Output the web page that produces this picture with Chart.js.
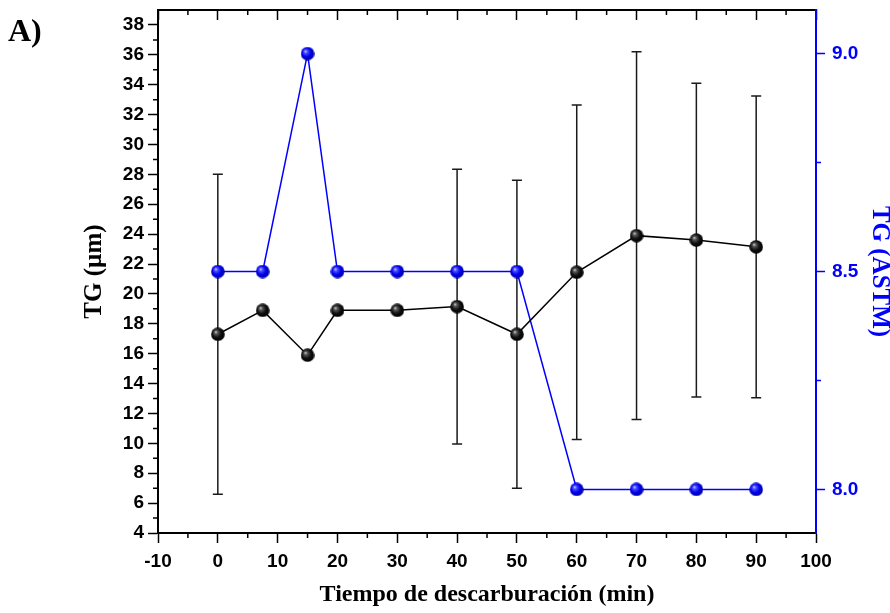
<!DOCTYPE html>
<html>
<head>
<meta charset="utf-8">
<script src="https://cdn.jsdelivr.net/npm/chart.js@4/dist/chart.umd.min.js"></script>
<style>
  html, body { margin: 0; padding: 0; background: #fff; }
  #wrap { width: 890px; height: 613px; }
</style>
</head>
<body>
<div id="wrap"><canvas id="grainChart" width="890" height="613"></canvas></div>
<script>
// ---- data ----
const timeMin   = [0, 7.5, 15, 20, 30, 40, 50, 60, 70, 80, 90];
const tgMicron  = [17.3, 18.9, 15.9, 18.9, 18.9, 19.15, 17.3, 21.45, 23.9, 23.6, 23.15];
const tgErr     = [10.7, 0, 0, 0, 0, 9.2, 10.3, 11.2, 12.3, 10.5, 10.1];
const tgAstm    = [8.5, 8.5, 9.0, 8.5, 8.5, 8.5, 8.5, 8.0, 8.0, 8.0, 8.0];

// tick labels
const xTicks     = [-10, 0, 10, 20, 30, 40, 50, 60, 70, 80, 90, 100];
const xMinor     = [-5, 5, 15, 25, 35, 45, 55, 65, 75, 85, 95];
const leftTicks  = [4, 6, 8, 10, 12, 14, 16, 18, 20, 22, 24, 26, 28, 30, 32, 34, 36, 38];
const leftMinor  = [5, 7, 9, 11, 13, 15, 17, 19, 21, 23, 25, 27, 29, 31, 33, 35, 37];
const rightTicks = [8.0, 8.5, 9.0];
const rightMinor = [8.25, 8.75];

const BLUE = '#0000ff';
const SANS = "'Liberation Sans', Arial, sans-serif";
const SERIF = "'Liberation Serif', 'Times New Roman', serif";

// shaded ball markers
function makeBall(base, mid, hi, edge) {
    const c = document.createElement('canvas');
    c.width = 14; c.height = 14;
    const g = c.getContext('2d');
    const grad = g.createRadialGradient(4.8, 4.6, 0, 6.5, 6.5, 7.5);
    grad.addColorStop(0, hi);
    grad.addColorStop(0.22, mid);
    grad.addColorStop(0.6, base);
    grad.addColorStop(1, edge);
    g.fillStyle = grad;
    g.beginPath();
    g.arc(7, 7, 6.8, 0, Math.PI * 2);
    g.fill();
    return c;
}
const blackBall = makeBall('#101010', '#5a5a5a', '#e8e8e8', '#000000');
const blueBall  = makeBall('#0000ee', '#5050ff', '#e6ecff', '#0000a0');

function toPoints(xs, ys) {
    return xs.map((x, i) => ({ x: x, y: ys[i] }));
}

function fixTicks(list) {
    return function (scale) { scale.ticks = list.map(v => ({ value: v })); };
}

// pin a scale's thickness and drop the label overhang padding
function pinSize(w, h) {
    return function (s) {
        if (w !== null) s.width = w;
        if (h !== null) s.height = h;
        s.paddingTop = 0; s.paddingBottom = 0;
        s.paddingLeft = 0; s.paddingRight = 0;
    };
}

// error bars for the µm series, drawn under the markers
const errorBarPlugin = {
    id: 'errorBars',
    beforeDatasetsDraw(chart) {
        const ctx = chart.ctx;
        const xs = chart.scales.x, ys = chart.scales.y;
        ctx.save();
        ctx.strokeStyle = '#1a1a1a';
        ctx.lineWidth = 1.5;
        timeMin.forEach((t, i) => {
            const e = tgErr[i];
            if (!e) return;
            const px = xs.getPixelForValue(t);
            const top = ys.getPixelForValue(tgMicron[i] + e);
            const bot = ys.getPixelForValue(tgMicron[i] - e);
            ctx.beginPath();
            ctx.moveTo(px, top); ctx.lineTo(px, bot);
            ctx.moveTo(px - 5, top); ctx.lineTo(px + 5, top);
            ctx.moveTo(px - 5, bot); ctx.lineTo(px + 5, bot);
            ctx.stroke();
        });
        ctx.restore();
    }
};

// minor ticks (Chart.js has no minor ticks of its own) and the panel letter
const minorTickPlugin = {
    id: 'minorTicks',
    afterDraw(chart) {
        const ctx = chart.ctx;
        const a = chart.chartArea;
        const { x, y, y2 } = chart.scales;
        ctx.save();
        ctx.lineWidth = 1.5;
        ctx.strokeStyle = '#000';
        ctx.beginPath();
        xMinor.forEach(v => {
            const px = x.getPixelForValue(v);
            ctx.moveTo(px, a.bottom); ctx.lineTo(px, a.bottom + 5);
            ctx.moveTo(px, a.top); ctx.lineTo(px, a.top + 5);
        });
        leftMinor.forEach(v => {
            const py = y.getPixelForValue(v);
            ctx.moveTo(a.left, py); ctx.lineTo(a.left - 5, py);
        });
        ctx.stroke();
        ctx.strokeStyle = BLUE;
        ctx.beginPath();
        rightMinor.forEach(v => {
            const py = y2.getPixelForValue(v);
            ctx.moveTo(a.right, py); ctx.lineTo(a.right + 5, py);
        });
        ctx.stroke();

        ctx.fillStyle = '#000';
        ctx.font = 'bold 32px ' + SERIF;
        ctx.textBaseline = 'alphabetic';
        ctx.fillText('A)', 8, 41);
        ctx.restore();
    }
};

const tickFont = { family: SANS, size: 19, weight: 'bold' };

const ctx = document.getElementById('grainChart').getContext('2d');
new Chart(ctx, {
    type: 'line',
    data: {
        datasets: [
            {
                label: 'TG (µm)',
                data: toPoints(timeMin, tgMicron),
                xAxisID: 'x', yAxisID: 'y',
                borderColor: '#000', borderWidth: 1.5,
                pointStyle: blackBall, tension: 0
            },
            {
                label: 'TG (ASTM)',
                data: toPoints(timeMin, tgAstm),
                xAxisID: 'x', yAxisID: 'y2',
                borderColor: BLUE, borderWidth: 1.5,
                pointStyle: blueBall, tension: 0
            }
        ]
    },
    options: {
        responsive: false,
        animation: false,
        events: [],
        layout: { padding: 0 },
        plugins: { legend: { display: false }, tooltip: { enabled: false } },
        scales: {
            x: {
                type: 'linear', position: 'bottom', min: -10, max: 100,
                afterBuildTicks: fixTicks(xTicks),
                afterFit: pinSize(null, 80),
                border: { color: '#000', width: 2 },
                grid: { drawOnChartArea: false, tickLength: 10, tickWidth: 1.5, tickColor: '#000' },
                ticks: { color: '#000', padding: 7, maxRotation: 0, font: tickFont },
                title: {
                    display: true, text: 'Tiempo de descarburación (min)', color: '#000',
                    font: { family: SERIF, size: 24, weight: 'bold' }, padding: { bottom: 4 }
                }
            },
            xTop: {
                type: 'linear', position: 'top', min: -10, max: 100,
                afterBuildTicks: fixTicks(xTicks),
                afterFit: pinSize(null, 10),
                border: { color: '#000', width: 2 },
                grid: { drawOnChartArea: false, tickLength: -10, tickWidth: 1.5, tickColor: '#000' },
                ticks: { display: false }
            },
            y: {
                type: 'linear', position: 'left', min: 4, max: 39,
                afterBuildTicks: fixTicks(leftTicks),
                afterFit: pinSize(158, null),
                border: { color: '#000', width: 2 },
                grid: { drawOnChartArea: false, tickLength: 10, tickWidth: 1.5, tickColor: '#000' },
                ticks: { color: '#000', padding: 4, font: tickFont },
                title: {
                    display: true, text: 'TG (µm)', color: '#000',
                    font: { family: SERIF, size: 25, weight: 'bold', lineHeight: 1 }, padding: { top: 82 }
                }
            },
            y2: {
                type: 'linear', position: 'right', min: 7.9, max: 9.1,
                afterBuildTicks: fixTicks(rightTicks),
                afterFit: pinSize(74, null),
                border: { color: BLUE, width: 2 },
                grid: { drawOnChartArea: false, tickLength: 9, tickWidth: 1.5, tickColor: BLUE },
                ticks: {
                    color: BLUE, padding: 7, font: tickFont,
                    callback: v => Number(v).toFixed(1)
                },
                title: {
                    display: true, text: 'TG (ASTM)', color: BLUE,
                    font: { family: SERIF, size: 25, weight: 'bold', lineHeight: 1 }, padding: { top: -2 }
                }
            }
        }
    },
    plugins: [errorBarPlugin, minorTickPlugin]
});
</script>
</body>
</html>
